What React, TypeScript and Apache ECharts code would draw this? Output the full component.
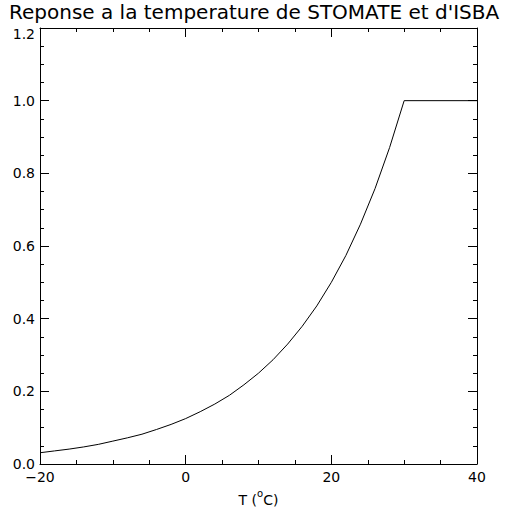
import React, { useEffect, useRef } from "react";
import * as echarts from "echarts";

const titleText = "Reponse a la temperature de STOMATE et d'ISBA";
const temperatures = [-20, -18, -16, -14, -12, -10, -8, -6, -4, -2, 0, 2, 4, 6, 8, 10, 12, 14, 16, 18, 20, 22, 24, 26, 28, 30, 40];
const response = [0.031, 0.036, 0.041, 0.047, 0.054, 0.063, 0.072, 0.082, 0.095, 0.109, 0.125, 0.144, 0.165, 0.189, 0.218, 0.25, 0.287, 0.33, 0.379, 0.435, 0.5, 0.574, 0.66, 0.758, 0.871, 1.0, 1.0];
const xTicks = { min: -20, max: 40, interval: 20 };
const yTicks = { min: 0, max: 1.2, interval: 0.2 };

const FONT = "DejaVu Sans";

export default function App() {
  const ref = useRef<HTMLDivElement>(null);
  useEffect(() => {
    if (!ref.current) return;
    const chart = echarts.init(ref.current, null, { renderer: "svg" });
    const axisCommon = {
      axisLine: { show: true, onZero: false, lineStyle: { color: "#000", width: 1 } },
      axisTick: { show: true, inside: true, length: 9, lineStyle: { color: "#000", width: 1 } },
      minorTick: { show: true, splitNumber: 4, length: 4, lineStyle: { color: "#000", width: 1 } },
      splitLine: { show: false },
      minorSplitLine: { show: false },
    };
    chart.setOption({
      animation: false,
      backgroundColor: "#fff",
      title: {
        text: titleText,
        left: 9,
        top: 2,
        padding: [0, 0, 0, 0],
        textStyle: { fontFamily: FONT, fontSize: 20, lineHeight: 20, fontWeight: "normal", color: "#000" },
      },
      grid: { left: 40, right: 30, top: 28, bottom: 48 },
      xAxis: [
        {
          type: "value",
          position: "bottom",
          ...xTicks,
          ...axisCommon,
          axisLabel: { fontFamily: FONT, fontSize: 14, color: "#000", margin: 6, formatter: (v: number) => (v < 0 ? "\u2212" + Math.abs(v) : String(v)) },
          name: "{m|T (}{s|o}{m|C)}",
          nameLocation: "middle",
          nameGap: 24,
          nameTextStyle: {
            rich: {
              m: { fontFamily: FONT, fontSize: 14, color: "#000", lineHeight: 18, verticalAlign: "bottom" },
              s: { fontFamily: FONT, fontSize: 10, color: "#000", verticalAlign: "top", lineHeight: 18 },
            },
          },
        },
        {
          type: "value",
          position: "top",
          ...xTicks,
          ...axisCommon,
          axisLabel: { show: false },
        },
      ],
      yAxis: [
        {
          type: "value",
          position: "left",
          ...yTicks,
          ...axisCommon,
          axisLabel: {
            fontFamily: FONT,
            fontSize: 14,
            lineHeight: 14,
            color: "#000",
            margin: 5,
            formatter: (v: number) => (v >= yTicks.max - 1e-9 ? "{top|" + v.toFixed(1) + "}" : v.toFixed(1)),
            rich: {
              top: { fontFamily: FONT, fontSize: 14, lineHeight: 14, color: "#000", padding: [12, 0, 0, 0] },
            },
          },
        },
        {
          type: "value",
          position: "right",
          ...yTicks,
          ...axisCommon,
          axisLabel: { show: false },
        },
      ],
      series: [
        {
          type: "line",
          data: temperatures.map((t, i) => [t, response[i]]),
          showSymbol: false,
          symbol: "none",
          lineStyle: { color: "#000", width: 1 },
          xAxisIndex: 0,
          yAxisIndex: 0,
        },
      ],
    });
    return () => chart.dispose();
  }, []);
  return <div ref={ref} style={{ position: "absolute", left: 0, top: 0, width: 507, height: 512 }} />;
}
